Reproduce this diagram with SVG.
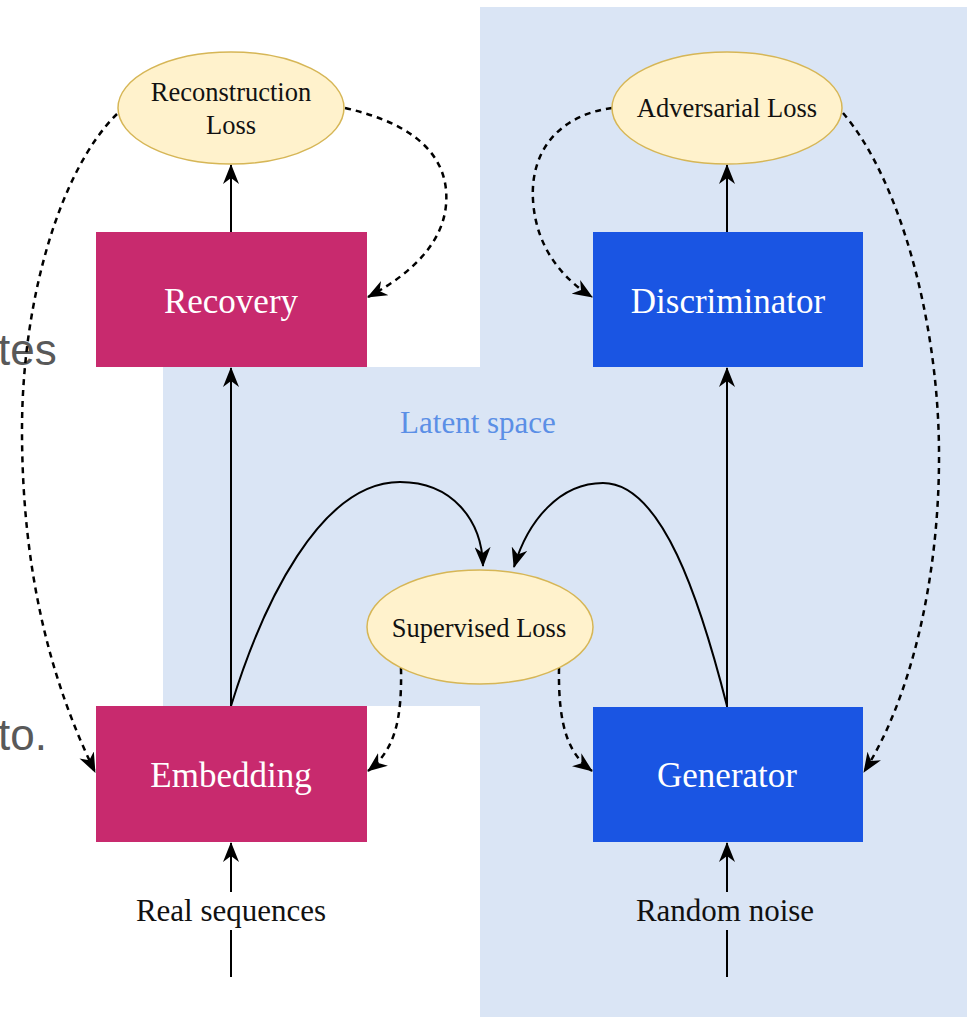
<svg xmlns="http://www.w3.org/2000/svg" width="969" height="1017" viewBox="0 0 969 1017">
<defs>
<marker id="ah" markerUnits="userSpaceOnUse" viewBox="0 0 20 16" markerWidth="20" markerHeight="16" refX="19" refY="8" orient="auto">
<path d="M0,0 L20,8 L0,16 L6,8 z" fill="#000"/>
</marker>
<style>
.bg{fill:#dae5f5;}
.mag{fill:#c82a6e;}
.blu{fill:#1a55e3;}
.ell{fill:#fff2cc;stroke:#d6b656;stroke-width:1.5;}
.bt{font-family:"Liberation Serif","Times New Roman",serif;font-size:35px;fill:#fff;text-anchor:middle;}
.et{font-family:"Liberation Serif","Times New Roman",serif;font-size:26.5px;fill:#111;text-anchor:middle;}
.lt{font-family:"Liberation Serif","Times New Roman",serif;font-size:31px;fill:#111;text-anchor:middle;}
.sol{fill:none;stroke:#000;stroke-width:2;marker-end:url(#ah);}
.seg{fill:none;stroke:#000;stroke-width:2;}
.das{fill:none;stroke:#000;stroke-width:2.5;stroke-dasharray:6 5;marker-end:url(#ah);}
.ov{font-family:"Liberation Sans",Arial,sans-serif;font-size:44px;fill:#595959;}
</style>
</defs>
<rect width="969" height="1017" fill="#fff"/>
<g id="background">
<rect class="bg" x="480" y="7" width="487" height="1010"/>
<rect class="bg" x="163" y="367" width="317" height="339"/>
<text x="478" y="433" style="font-family:'Liberation Serif','Times New Roman',serif;font-size:31px;fill:#5b8fe6;text-anchor:middle;">Latent space</text>
</g>
<g id="overlay-text">
<text class="ov" x="-2" y="365">tes</text>
<text class="ov" x="-2" y="750">to.</text>
</g>
<g id="connectors">
<path class="sol" d="M231 232 L231 165"/>
<path class="sol" d="M231 706 L231 368"/>
<path class="sol" d="M727 232 L727 165"/>
<path class="sol" d="M727 707 L727 368"/>
<path class="seg" d="M231 977 L231 930"/>
<path class="sol" d="M231 892 L231 843"/>
<path class="seg" d="M727 977 L727 930"/>
<path class="sol" d="M727 892 L727 843"/>
<path class="sol" d="M231 706 C262 605 320 482 400 482 C452 482 482 520 483 566"/>
<path class="sol" d="M727 706 C700 600 662 483 603 483 C560 483 528 520 514 567"/>
<path class="das" d="M117 114 C60 170 22 300 22 430 C22 570 50 680 95 772"/>
<path class="das" d="M345 108 C420 125 450 160 446 205 C442 250 400 280 368 297"/>
<path class="das" d="M612 108 C560 115 530 150 533 200 C536 250 565 280 592 297"/>
<path class="das" d="M843 113 C900 180 938 320 939 450 C940 580 910 700 864 772"/>
<path class="das" d="M401 668 C402 720 395 750 368 771"/>
<path class="das" d="M559 668 C558 730 570 755 592 771"/>
</g>
<g id="reconstruction-loss">
<ellipse class="ell" cx="231" cy="108" rx="113" ry="56"/>
<text class="et" x="231" y="101">Reconstruction</text>
<text class="et" x="231" y="134">Loss</text>
</g>
<g id="adversarial-loss">
<ellipse class="ell" cx="727" cy="108" rx="115" ry="56"/>
<text class="et" x="727" y="117">Adversarial Loss</text>
</g>
<g id="supervised-loss">
<ellipse class="ell" cx="480" cy="627" rx="113" ry="57"/>
<text class="et" x="479" y="637">Supervised Loss</text>
</g>
<g id="recovery">
<rect class="mag" x="96" y="232" width="271" height="135"/>
<text class="bt" x="231" y="313">Recovery</text>
</g>
<g id="discriminator">
<rect class="blu" x="593" y="232" width="270" height="135"/>
<text class="bt" x="728" y="313">Discriminator</text>
</g>
<g id="embedding">
<rect class="mag" x="96" y="706" width="271" height="136"/>
<text class="bt" x="231" y="787">Embedding</text>
</g>
<g id="generator">
<rect class="blu" x="593" y="707" width="270" height="135"/>
<text class="bt" x="727" y="787">Generator</text>
</g>
<g id="real-sequences">
<text class="lt" x="231" y="921">Real sequences</text>
</g>
<g id="random-noise">
<text class="lt" x="725" y="921">Random noise</text>
</g>
</svg>
